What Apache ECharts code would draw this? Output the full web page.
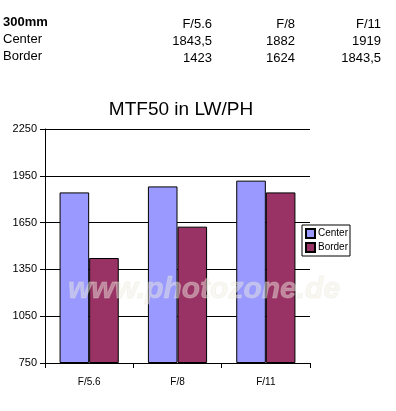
<!DOCTYPE html>
<html>
<head>
<meta charset="utf-8">
<script src="https://cdn.jsdelivr.net/npm/echarts@6/dist/echarts.min.js"></script>
<style>html,body{margin:0;padding:0;background:#fff;}#c{width:396px;height:411px;}</style>
</head>
<body>
<div id="c"></div>
<script>
var categories = ['F/5.6', 'F/8', 'F/11'];
var centerValues = [1843.5, 1882, 1919];
var borderValues = [1423, 1624, 1843.5];
var tableTitle = '300mm';
var seriesNames = ['Center', 'Border'];
var yMin = 750, yMax = 2250, yStep = 300;

var chart = echarts.init(document.getElementById('c'));
function fmt(v){ return String(v).replace('.', ','); }
var font = 'Arial, "Liberation Sans", sans-serif';
var colX = [212, 295, 381];
var rowY = [24, 41, 58];
var graphics = [
  {type:'text', left:3, top:rowY[0]-8, style:{text:tableTitle, font:'bold 13px ' + font, fill:'#000'}},
  {type:'text', left:3, top:rowY[1]-8, style:{text:seriesNames[0], font:'13px ' + font, fill:'#000'}},
  {type:'text', left:3, top:rowY[2]-8, style:{text:seriesNames[1], font:'13px ' + font, fill:'#000'}}
];
categories.forEach(function(c, i){
  [c, fmt(centerValues[i]), fmt(borderValues[i])].forEach(function(t, r){
    graphics.push({type:'text', x:colX[i], y:rowY[r], style:{text:t, font:'13px ' + font, fill:'#000', align:'right', verticalAlign:'middle'}});
  });
});
graphics.push({type:'text', x:204, y:290, z:100, style:{text:'www.photozone.de', font:'italic bold 30px ' + font, fill:'rgba(240,238,226,0.45)', align:'center', verticalAlign:'middle', stroke:'rgba(225,222,205,0.3)', lineWidth:1}});

var option = {
  animation:false,
  textStyle:{fontFamily:font},
  title:{text:'MTF50 in LW/PH', left:176, textAlign:'center', top:95, textStyle:{fontSize:19, fontWeight:'normal', color:'#000', fontFamily:font}},
  legend:{
    orient:'vertical', left:302, top:225, padding:[3,2,3,3], itemGap:3,
    itemWidth:9, itemHeight:9, icon:'rect', borderColor:'#000', borderWidth:1, backgroundColor:'#fff',
    textStyle:{fontSize:10, color:'#000', fontFamily:font, padding:[0,0,0,-2]},
    data:seriesNames
  },
  grid:{left:45, top:129, width:265, height:234, containLabel:false},
  xAxis:{
    type:'category', data:categories,
    axisLine:{lineStyle:{color:'#000', width:1}},
    axisTick:{show:true, length:5, lineStyle:{color:'#000'}},
    axisLabel:{color:'#000', fontSize:10, margin:14, fontFamily:font}
  },
  yAxis:{
    type:'value', min:0, max:yMax-yMin, interval:yStep,
    axisLine:{show:true, lineStyle:{color:'#000', width:1}},
    axisTick:{show:true, length:5, lineStyle:{color:'#000'}},
    axisLabel:{color:'#000', fontSize:11, margin:8, fontFamily:font, formatter:function(v){return String(v + yMin);}},
    splitLine:{show:true, lineStyle:{color:'#000', width:1}}
  },
  series:[
    {name:seriesNames[0], type:'bar', barGap:'0%', barCategoryGap:'33%',
     data:centerValues.map(function(v){return v - yMin;}),
     itemStyle:{color:'#9999FF', borderColor:'#000', borderWidth:1}},
    {name:seriesNames[1], type:'bar', barGap:'0%', barCategoryGap:'33%',
     data:borderValues.map(function(v){return v - yMin;}),
     itemStyle:{color:'#993366', borderColor:'#000', borderWidth:1}}
  ],
  graphic:graphics
};
chart.setOption(option);
</script>
</body>
</html>
